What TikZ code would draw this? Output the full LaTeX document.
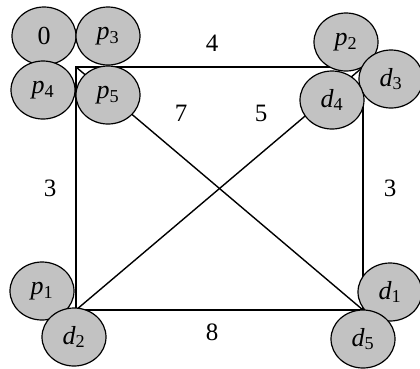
\documentclass[tikz,border=0pt]{standalone}
\usepackage{fontspec}
\setmainfont{Liberation Serif}
\usetikzlibrary{shapes.geometric}
\begin{document}
\begin{tikzpicture}[x=1pt,y=-1pt,
  loc/.style={ellipse, draw, line width=1.2pt, fill=black!24, minimum width=64pt, minimum height=58pt, inner sep=0pt, font=\fontsize{26}{26}\selectfont},
  edge/.style={line width=1.4pt},
  lbl/.style={font=\fontsize{25}{25}\selectfont}]
\useasboundingbox (0,0) rectangle (420,368);
\coordinate (A) at (76,67);
\coordinate (B) at (363,67);
\coordinate (C) at (76,310);
\coordinate (D) at (363,310);
\draw[edge] (A) -- (B) -- (D) -- (C) -- cycle;
\draw[edge] (A) -- (D);
\draw[edge] (C) -- (B);
\node[loc] (n0) at (44,36) {0};
\node[loc] (p3) at (108,36) {\textit{p}\textsubscript{3}};
\node[loc] (p4) at (43,90) {\textit{p}\textsubscript{4}};
\node[loc] (p5) at (108,95) {\textit{p}\textsubscript{5}};
\node[loc] (p2) at (346,42) {\textit{p}\textsubscript{2}};
\node[loc] (d3) at (391,79) {\textit{d}\textsubscript{3}};
\node[loc] (d4) at (332,100) {\textit{d}\textsubscript{4}};
\node[loc] (p1) at (42,291) {\textit{p}\textsubscript{1}};
\node[loc] (d2) at (74,337) {\textit{d}\textsubscript{2}};
\node[loc] (d1) at (390,292) {\textit{d}\textsubscript{1}};
\node[loc] (d5) at (363,339) {\textit{d}\textsubscript{5}};
\node[lbl] (l4) at (212,43) {4};
\node[lbl] (l7) at (181,113) {7};
\node[lbl] (l5) at (261,113) {5};
\node[lbl] (l3a) at (50,188) {3};
\node[lbl] (l3b) at (390,188) {3};
\node[lbl] (l8) at (212,332) {8};
\end{tikzpicture}
\end{document}
